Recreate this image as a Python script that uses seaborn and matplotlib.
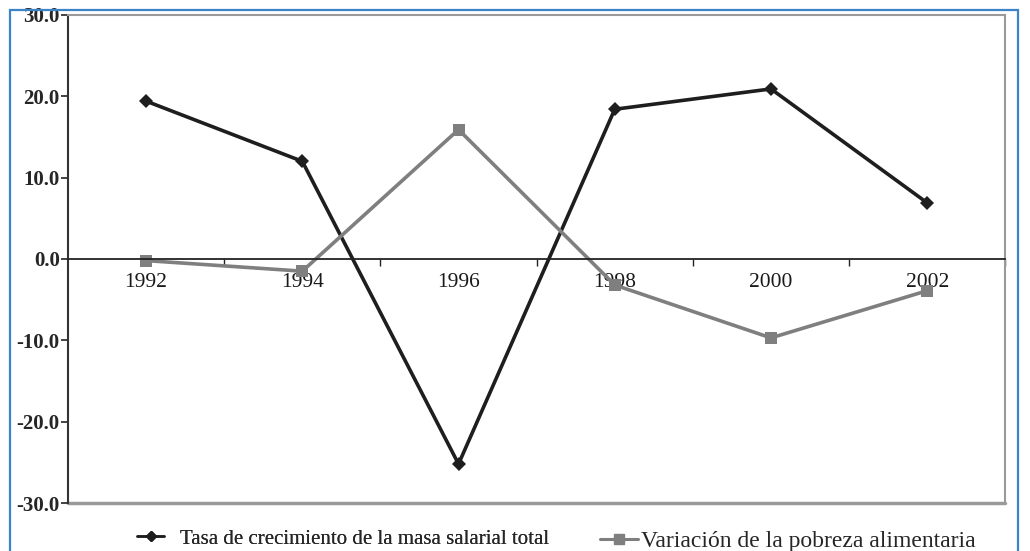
import numpy as np
import pandas as pd
import matplotlib
matplotlib.use('Agg')
import matplotlib.pyplot as plt
from matplotlib.patches import Rectangle
from matplotlib.ticker import FixedLocator, FormatStrFormatter
import seaborn as sns

# data
years = ['1992', '1994', '1996', '1998', '2000', '2002']
masa_salarial = [19.4, 12.0, -25.2, 18.4, 20.9, 6.9]
pobreza_alim = [-0.2, -1.5, 15.9, -3.2, -9.7, -3.9]
lbl_masa = 'Tasa de crecimiento de la masa salarial total'
lbl_pobreza = 'Variación de la pobreza alimentaria'

df = pd.DataFrame({'year': years * 2,
                   'valor': masa_salarial + pobreza_alim,
                   'serie': [lbl_masa] * 6 + [lbl_pobreza] * 6})

sns.set_style('white')
plt.rcParams['font.family'] = ['Liberation Serif', 'DejaVu Serif']

fig = plt.figure(figsize=(10.3, 5.51), dpi=100)
ax = fig.add_axes([0.066, 0.087, 0.910, 0.886])

sns.lineplot(data=df, x='year', y='valor', hue='serie', style='serie',
             palette={lbl_masa: '#1e1e1e', lbl_pobreza: '#7f7f7f'},
             markers={lbl_masa: 'D', lbl_pobreza: 's'}, dashes=False,
             linewidth=2.6, markeredgewidth=0, sort=False,
             ax=ax, legend=False)
# a bit bigger squares than diamonds, like the original
for ln, ms in zip(ax.lines, [7, 9]):
    ln.set_markersize(ms)

ax.set_xlim(-0.5, 5.5)
ax.set_ylim(-30, 30)
ax.set_yticks(np.arange(-30, 31, 10))
ax.yaxis.set_major_formatter(FormatStrFormatter('%.1f'))
ax.tick_params(axis='y', direction='out', length=5, width=1.2, color='#222222',
               labelsize=15, pad=1, left=True)
for t in ax.get_yticklabels():
    t.set_fontweight('bold')

# x axis crosses at zero
ax.spines['bottom'].set_position(('data', 0))
ax.spines['bottom'].set_color('#222222')
ax.spines['bottom'].set_linewidth(1.3)
ax.spines['left'].set_color('#333333')
ax.spines['left'].set_linewidth(1.5)
for s in ['top', 'right']:
    ax.spines[s].set_color('#9a9a9a')
    ax.spines[s].set_linewidth(1.5)
ax.axhline(-30, color='#9a9a9a', lw=2.5, clip_on=False, zorder=0)

ax.set_xticks(range(len(years)))
ax.set_xticklabels(years)
ax.xaxis.set_minor_locator(FixedLocator(np.arange(0.5, 5.6, 1)))
ax.tick_params(axis='x', which='major', length=0, labelsize=15.5, pad=10,
               bottom=True, labelcolor='#1a1a1a')
ax.tick_params(axis='x', which='minor', length=5, width=1, direction='out',
               color='#222222', bottom=True)
ax.set_xlabel('')
ax.set_ylabel('')

# legend under the plot, two pieces placed like the original
h1 = plt.Line2D([], [], color='#1e1e1e', lw=1.8, marker='D', markersize=5)
h2 = plt.Line2D([], [], color='#7f7f7f', lw=2.2, marker='s', markersize=7)
leg1 = fig.legend([h1], [lbl_masa], loc='lower left',
                  bbox_to_anchor=(0.115, -0.03), frameon=False,
                  prop={'size': 15}, handlelength=1.3, handletextpad=0.75)
leg2 = fig.legend([h2], [lbl_pobreza], loc='lower left',
                  bbox_to_anchor=(0.562, -0.04), frameon=False,
                  prop={'size': 17}, handlelength=1.6, handletextpad=0.15)
fig.add_artist(leg1)

# blue frame around the figure
fig.patches.append(Rectangle((10 / 1030, -0.01), 1008 / 1030, 1 - 10 / 551 + 0.01,
                             transform=fig.transFigure, fill=False,
                             edgecolor='#3d83c8', lw=1.6))

fig.savefig('out.png', dpi=100)
